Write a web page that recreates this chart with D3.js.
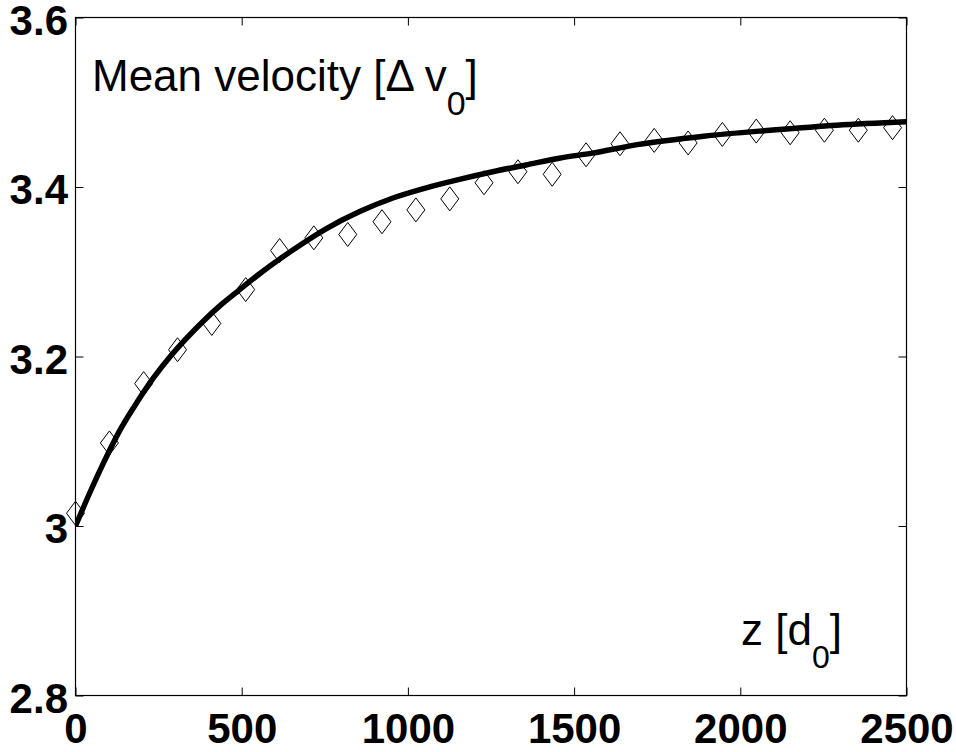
<!DOCTYPE html>
<html>
<head>
<meta charset="utf-8">
<script src="https://cdn.jsdelivr.net/npm/d3@7"></script>
<style>
  html, body { margin: 0; padding: 0; background: #fff; }
  svg { display: block; }
  text { font-family: "Liberation Sans", Arial, Helvetica, sans-serif; fill: #000; }
</style>
</head>
<body>
<svg id="chart" width="956" height="752"></svg>
<script>
// ---- data ----
const markerZ = [0, 102, 205, 307, 410, 512, 614, 717, 819, 922, 1024, 1126, 1229, 1331, 1434, 1536, 1638, 1741, 1843, 1946, 2048, 2150, 2253, 2355, 2458];
const markerV = [3.015, 3.098, 3.168, 3.208, 3.239, 3.279, 3.325, 3.340, 3.344, 3.359, 3.373, 3.386, 3.405, 3.418, 3.415, 3.438, 3.451, 3.455, 3.452, 3.462, 3.466, 3.464, 3.467, 3.467, 3.470];

const curveZ = [0, 45, 85, 135, 185, 235, 285, 335, 385, 435, 485, 555, 655, 755, 855, 955, 1055, 1155, 1255, 1355, 1455, 1555, 1690, 1890, 2090, 2290, 2500];
const curveV = [3.000, 3.041, 3.075, 3.114, 3.146, 3.175, 3.200, 3.222, 3.242, 3.260, 3.276, 3.298, 3.326, 3.351, 3.371, 3.387, 3.399, 3.409, 3.418, 3.426, 3.434, 3.440, 3.450, 3.460, 3.467, 3.473, 3.477];

const xTicks = [0, 500, 1000, 1500, 2000, 2500];
const xTickLabels = ["0", "500", "1000", "1500", "2000", "2500"];
const yTicks = [2.8, 3.0, 3.2, 3.4, 3.6];
const yTickLabels = ["2.8", "3", "3.2", "3.4", "3.6"];

// ---- layout ----
const L = 75.5, R = 906.5, T = 17.5, B = 695.5;
const svg = d3.select("#chart");

const x = d3.scaleLinear().domain([0, 2500]).range([L, R]);
const y = d3.scaleLinear().domain([2.8, 3.6]).range([B, T]);

// clip
svg.append("defs").append("clipPath").attr("id", "plotclip")
  .append("rect").attr("x", L).attr("y", T).attr("width", R - L).attr("height", B - T);

// markers (diamonds)
const dw = 9, dh = 12;
svg.append("g").selectAll("path").data(markerZ).join("path")
  .attr("d", (d, i) => {
    const cx = x(d), cy = y(markerV[i]);
    return `M${cx},${cy - dh}L${cx + dw},${cy}L${cx},${cy + dh}L${cx - dw},${cy}Z`;
  })
  .attr("fill", "none").attr("stroke", "#000").attr("stroke-width", 1);

// fit curve
const line = d3.line().x(d => x(d)).y((d, i) => y(curveV[i])).curve(d3.curveMonotoneX);
svg.append("path").datum(curveZ)
  .attr("clip-path", "url(#plotclip)")
  .attr("d", line)
  .attr("fill", "none").attr("stroke", "#000").attr("stroke-width", 5.5)
  .attr("stroke-linejoin", "round");

// axes box
svg.append("rect").attr("x", L).attr("y", T).attr("width", R - L).attr("height", B - T)
  .attr("fill", "none").attr("stroke", "#000").attr("stroke-width", 1.2);

// ticks (inward, all four sides)
const tl = 8;
const axB = d3.axisBottom(x).tickValues(xTicks).tickSize(-tl).tickFormat((d, i) => xTickLabels[i]).tickPadding(18);
const gB = svg.append("g").attr("transform", `translate(0,${B})`).call(axB);
const axT = d3.axisTop(x).tickValues(xTicks).tickSize(-tl).tickFormat("");
const gT = svg.append("g").attr("transform", `translate(0,${T})`).call(axT);
const axLft = d3.axisLeft(y).tickValues(yTicks).tickSize(-tl).tickFormat((d, i) => yTickLabels[i]).tickPadding(7.5);
const gL = svg.append("g").attr("transform", `translate(${L},0)`).call(axLft);
const axRt = d3.axisRight(y).tickValues(yTicks).tickSize(-tl).tickFormat("");
const gR = svg.append("g").attr("transform", `translate(${R},0)`).call(axRt);

[gB, gT, gL, gR].forEach(g => {
  g.select(".domain").remove();
  g.selectAll(".tick line").attr("stroke", "#000").attr("stroke-width", 1);
});
gB.selectAll(".tick text")
  .attr("font-family", '"Liberation Sans", Arial, sans-serif')
  .attr("font-size", 42).attr("font-weight", "bold").attr("fill", "#000")
  .attr("dy", "0.71em");
gL.selectAll(".tick text")
  .attr("font-family", '"Liberation Sans", Arial, sans-serif')
  .attr("font-size", 42).attr("font-weight", "bold").attr("fill", "#000")
  .attr("dy", "0.40em");

// in-plot labels
const t1 = svg.append("text").attr("x", 92).attr("y", 91).attr("font-size", 44);
t1.append("tspan").text("Mean velocity [\u0394 v");
t1.append("tspan").attr("font-size", 34).attr("dy", 24).text("0");
t1.append("tspan").attr("dy", -24).text("]");

const t2 = svg.append("text").attr("x", 741).attr("y", 645).attr("font-size", 44);
t2.append("tspan").text("z [d");
t2.append("tspan").attr("font-size", 32).attr("dy", 23).text("0");
t2.append("tspan").attr("dy", -23).text("]");
</script>
</body>
</html>
